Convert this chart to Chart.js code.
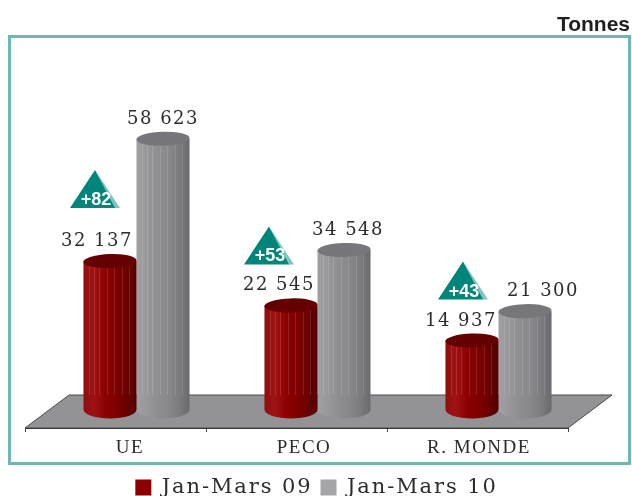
<!DOCTYPE html>
<html>
<head>
<meta charset="utf-8">
<script src="https://cdn.jsdelivr.net/npm/chart.js@4"></script>
<style>
  html, body { margin: 0; padding: 0; background: #fff; }
</style>
</head>
<body>
<canvas id="myChart" width="632" height="496"></canvas>
<script>
const categories = ['UE', 'PECO', 'R. MONDE'];
const janMars09 = [32137, 22545, 14937];
const janMars10 = [58623, 34548, 21300];
const hausse = [82, 53, 43];

// nudges, the picture's labels do not sit on the band centres
const catLabelShift = [14.5, 7.5, 1.5];
const redLabelShift = [-13, -12, -11];
const greyLabelShift = [0, 4, 18];
const badgeShiftX = [-15, -22, -9];
const badgeShiftY = [-53, -41, -41];

const SERIF = '"DejaVu Serif"';
const BAR_SHIFT = 21;
const FLOOR_DEPTH = 33;
const FLOOR_SKEW = 44;
const STRIPES = [0.1, 0.2, 0.3, 0.44, 0.58, 0.72, 0.86];

function fmt(v) {
  return String(v).replace(/\B(?=(\d{3})+$)/g, ' ');
}

function cylinder(ctx, bar, stops, topColor, floorY) {
  const x = bar.x + BAR_SHIFT;
  const rx = bar.width / 2;
  const top = bar.y;
  const base = bar.base;
  const ryTop = 7;
  const ryBase = 9;

  const grad = ctx.createLinearGradient(x - rx, 0, x + rx, 0);
  stops.forEach(function (s, i) {
    grad.addColorStop(i / (stops.length - 1), s);
  });

  ctx.save();
  ctx.beginPath();
  ctx.moveTo(x - rx, top);
  ctx.lineTo(x - rx, base);
  ctx.ellipse(x, base, rx, ryBase, 0, Math.PI, 0, true);
  ctx.lineTo(x + rx, top);
  ctx.closePath();
  ctx.fillStyle = grad;
  ctx.fill();

  ctx.lineWidth = 1;
  ctx.strokeStyle = 'rgba(255,255,255,0.13)';
  STRIPES.forEach(function (f) {
    const sx = Math.round(x - rx + f * bar.width) + 0.5;
    const dip = ryTop * Math.sqrt(1 - Math.pow((sx - x) / rx, 2));
    ctx.beginPath();
    ctx.moveTo(sx, top + dip);
    ctx.lineTo(sx, floorY);
    ctx.stroke();
  });

  ctx.beginPath();
  ctx.ellipse(x, top, rx, ryTop, -0.03, 0, Math.PI * 2);
  ctx.fillStyle = topColor;
  ctx.fill();
  ctx.restore();
}

const decor = {
  id: 'decor',
  beforeUpdate(chart) {
    chart.ctx.letterSpacing = '1.9px';
  },
  afterLayout(chart) {
    // legend is centred on the page, not on the plot
    chart.legend.left += 20;
    chart.legend.right += 20;
    chart.legend.top += 12;
    chart.legend.bottom += 12;
  },
  beforeDraw(chart) {
    const ctx = chart.ctx;
    const a = chart.chartArea;
    ctx.save();
    ctx.letterSpacing = '0px';

    ctx.strokeStyle = '#6fb7b2';
    ctx.lineWidth = 3;
    ctx.strokeRect(9.5, 36.5, 620, 427);

    ctx.fillStyle = '#1f1f1f';
    ctx.font = 'bold 21px "Liberation Sans"';
    ctx.textAlign = 'right';
    ctx.textBaseline = 'alphabetic';
    ctx.fillText('Tonnes', 630, 31);

    ctx.beginPath();
    ctx.moveTo(a.left, a.bottom);
    ctx.lineTo(a.left + FLOOR_SKEW, a.bottom - FLOOR_DEPTH);
    ctx.lineTo(a.right + FLOOR_SKEW, a.bottom - FLOOR_DEPTH);
    ctx.lineTo(a.right, a.bottom);
    ctx.closePath();
    ctx.fillStyle = '#939396';
    ctx.fill();
    ctx.strokeStyle = '#4a4a4c';
    ctx.lineWidth = 1;
    ctx.stroke();
    ctx.restore();
  },
  beforeDatasetDraw() {
    return false;
  },
  afterDatasetsDraw(chart) {
    const ctx = chart.ctx;
    const floorY = chart.chartArea.bottom - FLOOR_DEPTH;
    const red = chart.getDatasetMeta(0).data;
    const grey = chart.getDatasetMeta(1).data;
    const greyStops = ['#a0a0a3', '#98989b', '#8e8e92', '#88888c', '#7c7c80', '#6a6a6e'];
    const redStops = ['#8e0f0f', '#a01212', '#8c0202', '#800000', '#6c0000', '#520000'];

    grey.forEach(function (b) { cylinder(ctx, b, greyStops, '#77777b', floorY); });
    red.forEach(function (b) { cylinder(ctx, b, redStops, '#640000', floorY); });

    ctx.save();
    ctx.letterSpacing = '1.5px';
    ctx.font = '18px ' + SERIF;
    ctx.fillStyle = '#2b2b2b';
    ctx.textAlign = 'center';
    ctx.textBaseline = 'alphabetic';
    red.forEach(function (b, i) {
      ctx.fillText(fmt(janMars09[i]), b.x + BAR_SHIFT + redLabelShift[i], b.y - 15);
    });
    grey.forEach(function (b, i) {
      ctx.fillText(fmt(janMars10[i]), b.x + BAR_SHIFT + greyLabelShift[i], b.y - 15);
    });

    // category names, drawn here because each one has its own nudge
    const xs = chart.scales.x;
    ctx.letterSpacing = '1.5px';
    ctx.font = '19px "Liberation Serif"';
    categories.forEach(function (c, i) {
      ctx.fillText(c, xs.getPixelForValue(i) + catLabelShift[i], chart.chartArea.bottom + 25);
    });

    // the rise badges
    ctx.letterSpacing = '0px';
    red.forEach(function (b, i) {
      const cx = b.x + BAR_SHIFT + badgeShiftX[i];
      const by = b.y + badgeShiftY[i];
      ctx.beginPath();
      ctx.moveTo(cx, by - 38);
      ctx.lineTo(cx + 25, by);
      ctx.lineTo(cx + 19, by);
      ctx.closePath();
      ctx.fillStyle = '#7fc4bf';
      ctx.fill();
      ctx.beginPath();
      ctx.moveTo(cx, by - 38);
      ctx.lineTo(cx + 20, by);
      ctx.lineTo(cx - 25, by);
      ctx.closePath();
      ctx.fillStyle = '#00857a';
      ctx.fill();
      ctx.fillStyle = '#ffffff';
      ctx.font = 'bold 18px "Liberation Sans"';
      ctx.fillText('+' + hausse[i], cx + 1, by - 3);
    });
    ctx.restore();
  }
};

const myChart = new Chart(document.getElementById('myChart'), {
  type: 'bar',
  data: {
    labels: categories,
    datasets: [
      { label: 'Jan-Mars 09', data: janMars09, backgroundColor: '#8b0000' },
      { label: 'Jan-Mars 10', data: janMars10, backgroundColor: '#a5a5a8' }
    ]
  },
  options: {
    responsive: false,
    animation: false,
    categoryPercentage: 0.586,
    barPercentage: 1,
    layout: { padding: { left: 25, right: 64, top: 40, bottom: 0 } },
    scales: {
      x: {
        ticks: { display: false },
        grid: { drawOnChartArea: false, color: '#4a4a4c', tickLength: 4, offset: true },
        border: { color: '#3a3a3c' },
        afterFit(scale) { scale.height = 29; }
      },
      y: { display: false, min: -4000, max: 80000 }
    },
    plugins: {
      title: { display: false },
      tooltip: { enabled: false },
      legend: {
        position: 'bottom',
        labels: {
          boxWidth: 16,
          boxHeight: 16,
          padding: 8,
          color: '#2b2b2b',
          font: { family: SERIF, size: 21 }
        }
      }
    }
  },
  plugins: [decor]
});
</script>
</body>
</html>
